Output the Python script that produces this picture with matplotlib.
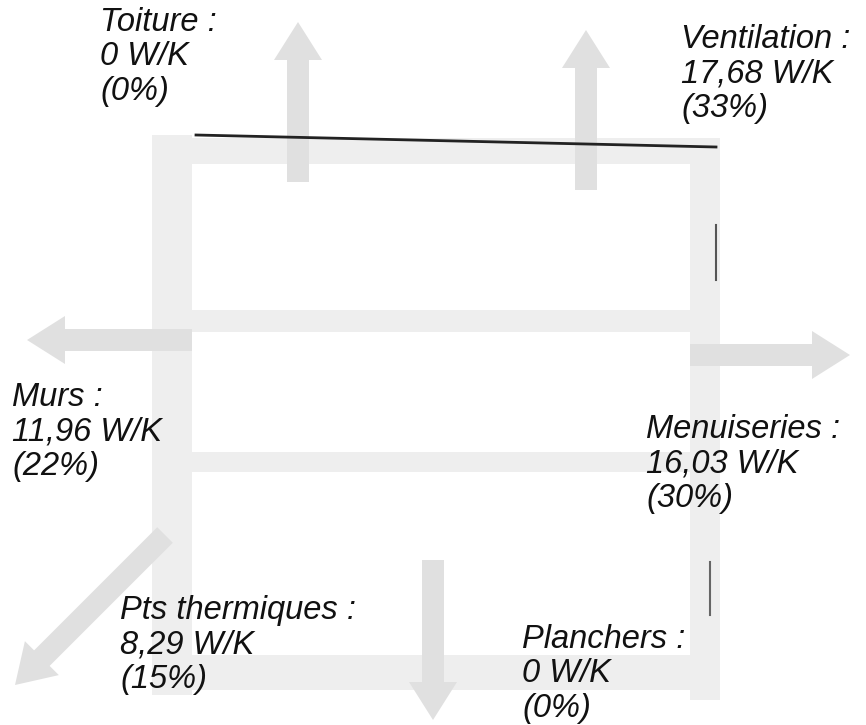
import matplotlib
matplotlib.use("Agg")
import matplotlib.pyplot as plt
from matplotlib.patches import FancyArrow, Rectangle

# heat loss per component
postes = ["Toiture", "Ventilation", "Murs", "Menuiseries", "Pts thermiques", "Planchers"]
valeurs = ["0", "17,68", "11,96", "16,03", "8,29", "0"]
parts = [0, 33, 22, 30, 15, 0]

# label anchor (top-left, pixel coords) and arrow (x, y, dx, dy)
label_pos = [(100, 7), (681, 24), (12, 382), (646, 414), (120, 595), (522, 624)]
fleches = [(298, 182, 0, -160), (586, 190, 0, -160), (192, 340, -165, 0),
           (690, 355, 160, 0), (165, 535, -150, 150), (433, 560, 0, 160)]

fig = plt.figure(figsize=(8.66, 7.25), dpi=100)
ax = fig.add_axes([0, 0, 1, 1])
ax.set_xlim(0, 866)
ax.set_ylim(725, 0)
ax.axis("off")

gris = "#eeeeee"
# walls / floors of the house
ax.add_patch(Rectangle((152, 135), 40, 560, color=gris, lw=0))
ax.add_patch(Rectangle((690, 145), 30, 555, color=gris, lw=0))
ax.add_patch(Rectangle((192, 138), 528, 26, color=gris, lw=0))
ax.add_patch(Rectangle((192, 310), 498, 22, color=gris, lw=0))
ax.add_patch(Rectangle((192, 452), 498, 20, color=gris, lw=0))
ax.add_patch(Rectangle((192, 655), 498, 35, color=gris, lw=0))

for (x, y, dx, dy) in fleches:
    ax.add_patch(FancyArrow(x, y, dx, dy, width=22, head_width=48, head_length=38,
                            length_includes_head=True, color="#e0e0e0", lw=0))

# roof line and wall marks
ax.plot([196, 716], [135, 147], color="#222222", lw=2)
ax.plot([716, 716], [225, 280], color="#555555", lw=1.5)
ax.plot([710, 710], [562, 615], color="#666666", lw=1.5)

for nom, v, p, (x, y) in zip(postes, valeurs, parts, label_pos):
    ax.text(x, y, f"{nom} :\n{v} W/K\n({p}%)", fontsize=23.5, style="italic",
            family="Liberation Sans", color="#111111", va="top", ha="left",
            linespacing=1.14)

fig.savefig("out.png", dpi=100)
